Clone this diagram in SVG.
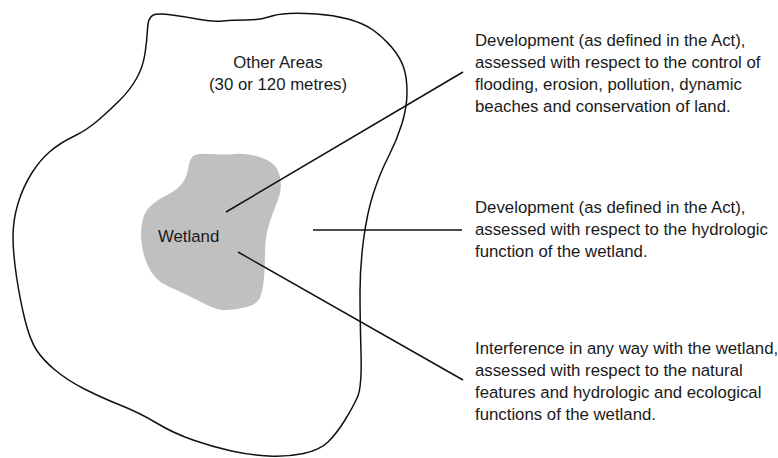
<svg xmlns="http://www.w3.org/2000/svg" width="778" height="458" viewBox="0 0 778 458">
<style>
text{font-family:"Liberation Sans",Arial,sans-serif;font-size:16.8px;fill:#1a1a1a}
.outline{fill:none;stroke:#111;stroke-width:1.5;stroke-linejoin:round}
.wet{fill:#c0c0c0;stroke:none}
.conn{stroke:#111;stroke-width:1.5;fill:none}
</style>
<rect width="778" height="458" fill="#fff"/>
<g id="other-areas">
<path class="outline" d="M 152.5,15.5 Q 157,13 172,15 Q 187,17 200,19.5 Q 213,22 223,21 Q 233,20 246.5,20 Q 260,20 268.5,17 Q 277,14 288.5,13.5 Q 300,13 316.5,14 Q 333,15 348,19 Q 363,23 373,30 Q 383,37 391.5,47 Q 400,57 403.5,67 Q 407,77 407,92 Q 407,107 402,123.5 Q 397,140 388.5,156.5 Q 380,173 373.5,193 Q 367,213 363.5,240 Q 360,267 360,292 Q 360,317 361,352 Q 362,387 357.5,397 Q 353,407 345,420 Q 337,433 328.5,441.5 Q 320,450 303.5,453.5 Q 287,457 268.5,456 Q 250,455 231.5,451 Q 213,447 193,440 Q 173,433 156.5,423 Q 140,413 120,405 Q 100,397 83.5,388.5 Q 67,380 55,370 Q 43,360 36.5,350 Q 30,340 25,320 Q 20,300 16.5,276.5 Q 13,253 13,236.5 Q 13,220 18,203.5 Q 23,187 31.5,173.5 Q 40,160 50,151.5 Q 60,143 73.5,136.5 Q 87,130 98.5,120 Q 110,110 120,100 Q 130,90 136.5,78.5 Q 143,67 145,53.5 Q 147,40 147.5,29 Q 148,18 152.5,15.5 Z"/>
<text x="278" y="68" text-anchor="middle">Other Areas</text>
<text x="278" y="90" text-anchor="middle">(30 or 120 metres)</text>
</g>
<g id="wetland">
<path class="wet" d="M195,155 Q200,153 213.5,154 Q227,155 233.5,154 Q240,153 251.5,155 Q263,157 270.5,162 Q278,167 280,177 Q282,187 279.5,195 Q277,203 273.5,211.5 Q270,220 267.5,230 Q265,240 265,253.5 Q265,267 264,278.5 Q263,290 260,297.5 Q257,305 245,307.5 Q233,310 225,310 Q217,310 207,305 Q197,300 187,295 Q177,290 168.5,286.5 Q160,283 153.5,275 Q147,267 143.5,253.5 Q140,240 141.5,226.5 Q143,213 150,206.5 Q157,200 167,195 Q177,190 182,183.5 Q187,177 188.5,167 Q190,157 195,155 Z"/>
<text x="158" y="242">Wetland</text>
</g>
<g id="connectors">
<line class="conn" x1="226" y1="212" x2="463" y2="72"/>
<line class="conn" x1="313" y1="230" x2="462" y2="230"/>
<line class="conn" x1="238" y1="252" x2="463" y2="380"/>
</g>
<g id="note-1">
<text x="475" y="46">Development (as defined in the Act),</text>
<text x="475" y="68">assessed with respect to the control of</text>
<text x="475" y="90">flooding, erosion, pollution, dynamic</text>
<text x="475" y="112">beaches and conservation of land.</text>
</g>
<g id="note-2">
<text x="475" y="213">Development (as defined in the Act),</text>
<text x="475" y="235">assessed with respect to the hydrologic</text>
<text x="475" y="257">function of the wetland.</text>
</g>
<g id="note-3">
<text x="475" y="354">Interference in any way with the wetland,</text>
<text x="475" y="376">assessed with respect to the natural</text>
<text x="475" y="398">features and hydrologic and ecological</text>
<text x="475" y="420">functions of the wetland.</text>
</g>
</svg>
